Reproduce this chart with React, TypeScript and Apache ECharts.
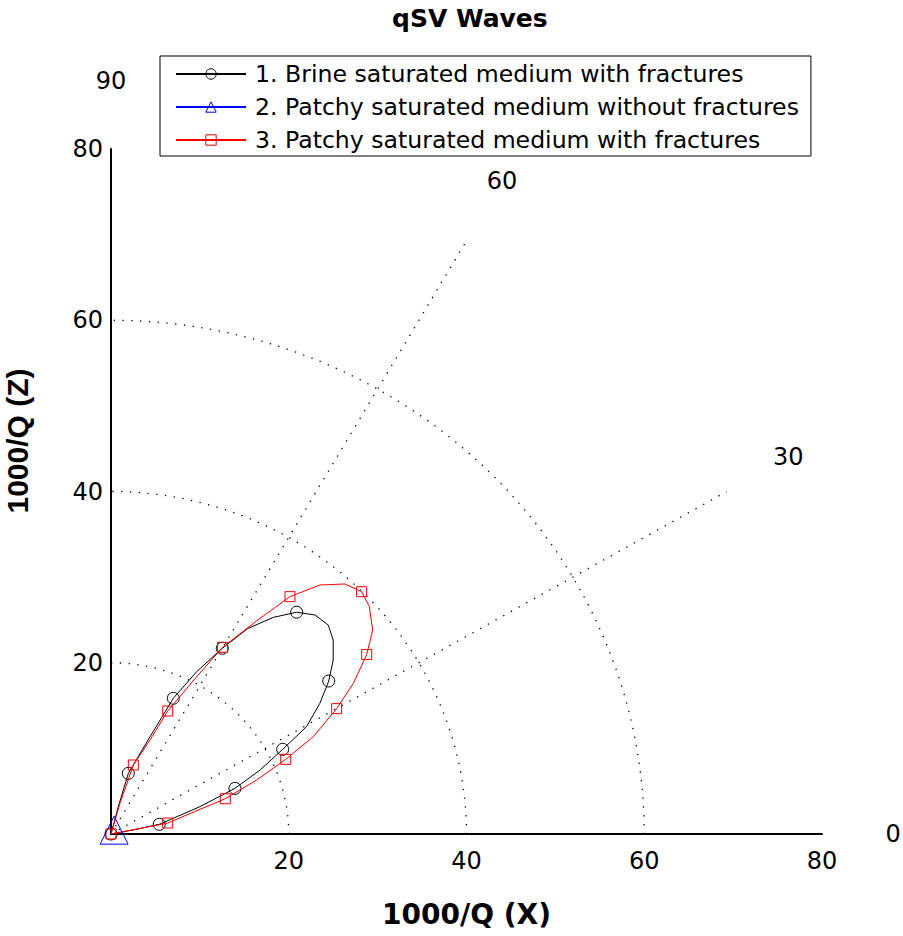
import React, { useEffect, useRef } from 'react';
import * as echarts from 'echarts';

// ---- data ----
const brineX = [0, 2.5, 5.43, 10.0, 13.95, 16.77, 19.32, 22.0, 23.5, 24.5, 25.0, 25.0, 24.45, 22.95, 20.89, 18.26, 15.4, 12.52, 9.64, 7.01, 4.39, 1.95, 0.82, 0];
const brineZ = [0, 0.47, 1.13, 3.19, 5.33, 7.47, 9.89, 12.53, 15.26, 17.87, 20.3, 22.66, 24.4, 25.58, 25.9, 25.3, 24.0, 21.69, 18.96, 15.85, 11.36, 7.08, 3.19, 0];
const brineMarks = [0, 2, 4, 6, 9, 14, 17, 19, 21];

const patchyNoFracX = [0.35];
const patchyNoFracZ = [0.45];
const patchyNoFracMarks = [0];

const patchyFracX = [0, 6.38, 12.86, 16.39, 19.66, 22.76, 25.39, 27.27, 28.77, 29.44, 29.07, 28.2, 26.33, 23.52, 20.14, 16.4, 12.56, 9.64, 6.38, 4.39, 2.51, 1.01, 0];
const patchyFracZ = [0, 1.28, 4.12, 6.31, 8.72, 11.36, 14.64, 17.6, 20.96, 23.8, 26.55, 28.3, 29.2, 29.08, 27.72, 24.9, 21.8, 18.37, 14.36, 10.98, 8.06, 3.58, 0];
const patchyFracMarks = [0, 1, 2, 4, 6, 8, 11, 14, 16, 18, 20];

const seriesNames = [
  '1. Brine saturated medium with fractures',
  '2. Patchy saturated medium without fractures',
  '3. Patchy saturated medium with fractures',
];

const axisTicks = [0, 20, 40, 60, 80];
const gridRadii = [20, 40, 60];
const spokeAngles = [30, 60];
const spokeLength = 80;
const angleLabelValues = [0, 30, 60, 90];
const angleLabelRadius = 88;

const FONT = "'DejaVu Sans', sans-serif";

const toRad = (d: number) => (d * Math.PI) / 180;

function buildSeriesData(xs: number[], zs: number[], marks: number[], sym: string) {
  return xs.map((x, i) => ({
    value: [x, zs[i]],
    symbol: marks.includes(i) ? sym : 'none',
  }));
}

export default function App() {
  const ref = useRef<HTMLDivElement>(null);
  useEffect(() => {
    if (!ref.current) return;
    const chart = echarts.init(ref.current, null, { renderer: 'svg' });

    const dotted = { color: '#000', width: 1.3, type: [1.3, 7.5] as any, cap: 'butt' as any };

    const arcSeries = gridRadii.map((r) => ({
      type: 'line',
      silent: true,
      showSymbol: false,
      symbol: 'none',
      clip: false,
      z: 1,
      lineStyle: dotted,
      data: Array.from({ length: 91 }, (_, d) => [r * Math.cos(toRad(d)), r * Math.sin(toRad(d))]),
    }));
    const spokeSeries = spokeAngles.map((a) => ({
      type: 'line',
      silent: true,
      showSymbol: false,
      symbol: 'none',
      clip: false,
      z: 1,
      lineStyle: dotted,
      data: [
        [0, 0],
        [spokeLength * Math.cos(toRad(a)), spokeLength * Math.sin(toRad(a))],
      ],
    }));
    const angleLabelSeries = {
      type: 'scatter',
      silent: true,
      clip: false,
      symbolSize: 1,
      itemStyle: { color: 'rgba(0,0,0,0)' },
      label: {
        show: true,
        position: 'inside',
        formatter: (p: any) => p.name,
        fontFamily: FONT,
        fontSize: 24,
        color: '#000',
        opacity: 1,
        textBorderWidth: 0,
        textBorderColor: 'rgba(0,0,0,0)',
      },
      data: angleLabelValues.map((a) => ({
        name: String(a),
        value: [angleLabelRadius * Math.cos(toRad(a)), angleLabelRadius * Math.sin(toRad(a))],
      })),
    };

    const option: any = {
      animation: false,
      backgroundColor: '#fff',
      title: {
        text: 'qSV Waves',
        left: 392,
        top: 6,
        padding: 0,
        textStyle: { fontFamily: FONT, fontWeight: 'bold', fontSize: 25, color: '#000' },
      },
      legend: {
        orient: 'vertical',
        left: 160,
        top: 56,
        data: seriesNames,
        itemWidth: 70,
        itemHeight: 13,
        itemGap: 9,
        padding: [6, 12, 4, 15],
        borderColor: '#000',
        borderWidth: 1,
        backgroundColor: '#fff',
        selectedMode: false,
        itemStyle: { color: 'rgba(0,0,0,0)', borderWidth: 1 },
        textStyle: { fontFamily: FONT, fontSize: 23.6, color: '#000', lineHeight: 24, padding: [0, 0, 0, 4] },
      },
      grid: { left: 111, right: 81, top: 149, bottom: 102, containLabel: false, outerBoundsMode: 'none' },
      xAxis: {
        type: 'value',
        min: axisTicks[0],
        max: axisTicks[axisTicks.length - 1],
        interval: 20,
        name: '1000/Q (X)',
        nameLocation: 'middle',
        nameGap: 66,
        nameTextStyle: { fontFamily: FONT, fontWeight: 'bold', fontSize: 28, color: '#000' },
        axisLine: { show: true, lineStyle: { color: '#000', width: 2 } },
        axisTick: { show: false },
        splitLine: { show: false },
        axisLabel: {
          margin: 15,
          fontFamily: FONT,
          fontSize: 24,
          color: '#000',
          formatter: (v: number) => (v === 0 ? '' : String(v)),
        },
      },
      yAxis: {
        type: 'value',
        min: axisTicks[0],
        max: axisTicks[axisTicks.length - 1],
        interval: 20,
        axisLine: { show: true, lineStyle: { color: '#000', width: 2 } },
        axisTick: { show: false },
        splitLine: { show: false },
        axisLabel: {
          margin: 8,
          fontFamily: FONT,
          fontSize: 24,
          color: '#000',
          formatter: (v: number) => (v === 0 ? '' : String(v)),
        },
      },
      graphic: [
        {
          type: 'text',
          x: 17,
          y: 441,
          rotation: Math.PI / 2,
          style: {
            text: '1000/Q (Z)',
            fill: '#000',
            fontFamily: "'Liberation Sans', Arial, sans-serif",
            fontWeight: 'bold',
            fontSize: 30,
            align: 'center',
            verticalAlign: 'middle',
          },
        },
      ],
      series: [
        ...arcSeries,
        ...spokeSeries,
        angleLabelSeries,
        {
          name: seriesNames[0],
          type: 'line',
          z: 3,
          clip: false,
          symbol: 'circle',
          symbolSize: 12,
          showSymbol: true,
          lineStyle: { color: '#000', width: 1 },
          itemStyle: { color: 'rgba(0,0,0,0)', borderColor: '#000', borderWidth: 1 },
          emphasis: { disabled: true },
          data: buildSeriesData(brineX, brineZ, brineMarks, 'circle'),
        },
        {
          name: seriesNames[2],
          type: 'line',
          z: 4,
          clip: false,
          symbol: 'rect',
          symbolSize: 10,
          showSymbol: true,
          lineStyle: { color: '#ff0000', width: 1 },
          itemStyle: { color: 'rgba(0,0,0,0)', borderColor: '#ff0000', borderWidth: 1 },
          emphasis: { disabled: true },
          data: buildSeriesData(patchyFracX, patchyFracZ, patchyFracMarks, 'rect'),
        },
        {
          name: seriesNames[1],
          type: 'line',
          z: 5,
          clip: false,
          symbol: 'triangle',
          symbolSize: 28,
          showSymbol: true,
          lineStyle: { color: '#0000ff', width: 1 },
          itemStyle: { color: 'rgba(0,0,0,0)', borderColor: '#0000ff', borderWidth: 1 },
          emphasis: { disabled: true },
          data: buildSeriesData(patchyNoFracX, patchyNoFracZ, patchyNoFracMarks, 'triangle'),
        },
      ],
    };
    chart.setOption(option);
    return () => chart.dispose();
  }, []);
  return (
    <div
      ref={ref}
      style={{ position: 'fixed', left: 0, top: 0, width: 903, height: 936, background: '#fff' }}
    />
  );
}
